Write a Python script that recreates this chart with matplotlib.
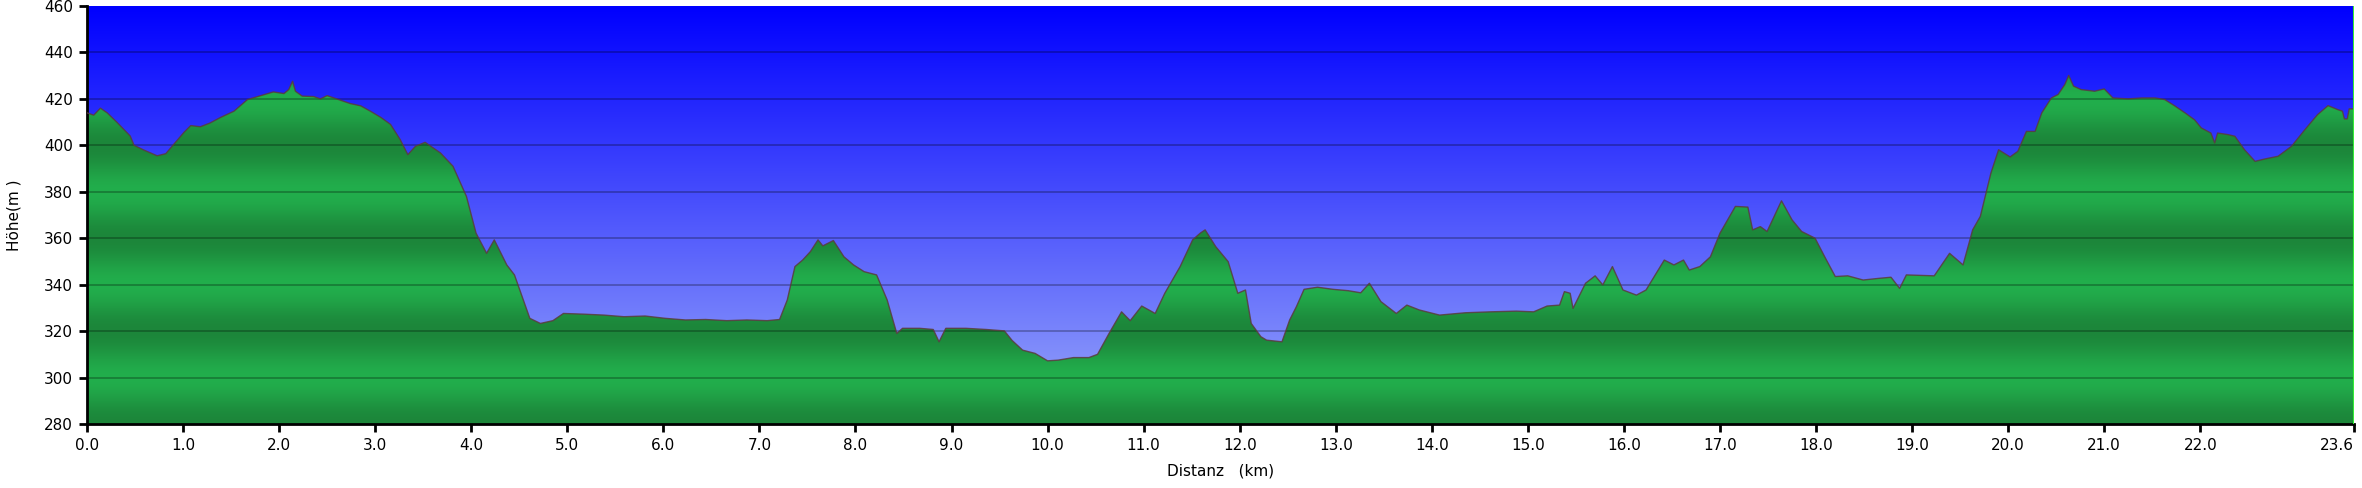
import numpy as np
import matplotlib
matplotlib.use("Agg")
import matplotlib.pyplot as plt

# Höhenprofil (km, m)
dist_km = [0.00, 0.07, 0.14, 0.21, 0.31, 0.45, 0.49, 0.59, 0.73, 0.82, 0.90, 1.01, 1.08, 1.18, 1.28,
           1.39, 1.53, 1.67, 1.81, 1.94, 2.05, 2.10, 2.14, 2.17, 2.24, 2.36, 2.43, 2.50, 2.60, 2.74,
           2.85, 2.95, 3.06, 3.16, 3.26, 3.34, 3.42, 3.52, 3.68, 3.81, 3.95, 4.05, 4.16, 4.24, 4.37,
           4.45, 4.61, 4.72, 4.85, 4.96, 5.17, 5.38, 5.59, 5.81, 6.02, 6.23, 6.44, 6.66, 6.87, 7.08,
           7.21, 7.29, 7.37, 7.45, 7.53, 7.61, 7.66, 7.77, 7.88, 7.98, 8.09, 8.22, 8.33, 8.43, 8.49,
           8.67, 8.81, 8.87, 8.94, 9.15, 9.36, 9.55, 9.63, 9.74, 9.87, 10.00, 10.11, 10.27, 10.43, 10.52,
           10.64, 10.77, 10.86, 10.98, 11.12, 11.22, 11.38, 11.51, 11.59, 11.64, 11.75, 11.88, 11.98, 12.06, 12.12,
           12.22, 12.28, 12.44, 12.52, 12.59, 12.67, 12.81, 12.97, 13.13, 13.26, 13.35, 13.47, 13.63, 13.74, 13.87,
           14.08, 14.35, 14.61, 14.88, 15.06, 15.20, 15.33, 15.38, 15.44, 15.47, 15.60, 15.70, 15.78, 15.88, 15.99,
           16.13, 16.23, 16.42, 16.52, 16.62, 16.68, 16.79, 16.90, 17.00, 17.16, 17.29, 17.34, 17.42, 17.49, 17.64,
           17.75, 17.85, 17.99, 18.09, 18.20, 18.33, 18.49, 18.65, 18.78, 18.87, 18.94, 19.23, 19.39, 19.53, 19.63,
           19.71, 19.82, 19.90, 20.02, 20.10, 20.19, 20.28, 20.35, 20.45, 20.52, 20.59, 20.63, 20.68, 20.76, 20.90,
           21.00, 21.09, 21.25, 21.39, 21.53, 21.63, 21.73, 21.84, 21.94, 22.01, 22.11, 22.15, 22.18, 22.29, 22.36,
           22.46, 22.57, 22.67, 22.81, 22.95, 23.09, 23.22, 23.33, 23.43, 23.48, 23.50, 23.53, 23.55, 23.60]
elev_m = [414.0, 413.0, 416.0, 414.0, 410.0, 404.0, 400.0, 398.0, 395.5, 396.4, 400.3, 405.6, 408.5, 408.0, 409.6,
          412.0, 414.7, 419.7, 421.4, 423.0, 422.3, 424.0, 427.6, 423.3, 421.2, 421.0, 420.0, 421.4, 420.0, 418.0,
          417.0, 414.7, 412.0, 409.0, 402.5, 396.0, 399.6, 401.3, 396.7, 391.0, 378.0, 362.2, 353.5, 359.3, 348.5,
          344.2, 325.5, 323.3, 324.5, 327.6, 327.3, 326.9, 326.2, 326.5, 325.5, 324.8, 325.0, 324.5, 324.8, 324.5,
          325.0, 333.4, 347.8, 350.6, 354.2, 359.3, 356.7, 359.0, 352.0, 348.5, 345.6, 344.2, 333.4, 319.0, 321.2,
          321.2, 320.7, 315.4, 321.2, 321.2, 320.7, 320.1, 316.0, 311.8, 310.4, 307.2, 307.5, 308.6, 308.6, 310.0,
          319.0, 328.3, 324.5, 330.8, 327.6, 336.3, 347.8, 359.3, 362.2, 363.6, 356.4, 349.9, 336.3, 337.7, 323.3,
          317.6, 316.1, 315.4, 324.8, 330.5, 338.0, 338.9, 338.0, 337.4, 336.5, 340.6, 332.7, 327.6, 331.2, 329.1,
          326.9, 327.9, 328.3, 328.6, 328.3, 330.8, 331.2, 337.0, 336.3, 329.8, 340.6, 343.8, 339.9, 347.8, 337.7,
          335.5, 337.7, 350.6, 348.5, 350.6, 346.3, 347.8, 352.0, 362.2, 373.7, 373.4, 363.6, 365.0, 362.9, 376.1,
          367.9, 362.9, 360.0, 352.0, 343.5, 343.8, 342.0, 342.7, 343.2, 338.4, 344.2, 343.8, 353.5, 348.5, 363.6,
          369.4, 388.0, 398.1, 395.0, 397.4, 406.0, 406.0, 414.0, 420.4, 421.9, 426.2, 430.1, 425.5, 424.0, 423.3,
          424.3, 420.4, 420.0, 420.4, 420.4, 419.7, 417.1, 414.0, 411.0, 407.5, 405.3, 401.0, 405.3, 404.6, 403.9,
          398.1, 393.1, 394.1, 395.3, 399.6, 406.8, 413.2, 417.1, 415.4, 414.7, 411.4, 411.4, 415.7, 415.7]

x_ticks = [float(i) for i in range(23)] + [23.6]
y_ticks = list(range(280, 461, 20))

x_max = 23.6
y_min, y_max = 280, 460

fig = plt.figure(figsize=(23.62, 4.88), dpi=100)
ax = fig.add_axes([87 / 2362, 1 - 424 / 488, (2354 - 87) / 2362, 418 / 488])

# Himmel: Verlauf von blau (oben) nach hellblau (unten)
h = np.linspace(0, 1, 256)[:, None]
top = np.array([0, 0, 255]) / 255
bot = np.array([155, 170, 250]) / 255
sky = (bot * (1 - h) + top * h)[:, None, :]
ax.imshow(sky, extent=[0, x_max, y_min, y_max], origin='lower', aspect='auto', zorder=0)

# Gelände: grüne Streifen, dunkel bei 280/320/360/400/440
ys = np.linspace(y_min, y_max, 720)
t = (1 - np.cos((ys - y_min) / 40 * 2 * np.pi)) / 2
dark = np.array([28, 134, 58]) / 255
light = np.array([34, 174, 76]) / 255
grn = (dark * (1 - t[:, None]) + light * t[:, None])[:, None, :]
img = ax.imshow(grn, extent=[0, x_max, y_min, y_max], origin='lower', aspect='auto', zorder=1)
poly = ax.fill_between(dist_km, elev_m, y_min, facecolor='none', edgecolor='none', zorder=1)
img.set_clip_path(poly.get_paths()[0], transform=ax.transData)

ax.plot(dist_km, elev_m, color='#5a3c3c', lw=1.0, alpha=0.85, zorder=3)

# Gitterlinien
for yv in y_ticks[1:-1]:
    ax.axhline(yv, color='black', alpha=0.28, lw=1.3, zorder=2)

ax.axvline(x_max, ymin=0, ymax=1, color='#33ee33', lw=1.5, zorder=4)

ax.set_xlim(0, x_max)
ax.set_ylim(y_min, y_max)
ax.set_xticks(x_ticks)
ax.set_xticklabels(['%.1f' % v for v in x_ticks])
ax.set_yticks(y_ticks)
ax.tick_params(direction='out', length=6, width=2, labelsize=11, colors='black', pad=4)
ax.get_xticklabels()[-1].set_horizontalalignment('right')

for s in ['top', 'right']:
    ax.spines[s].set_visible(False)
for s in ['left', 'bottom']:
    ax.spines[s].set_linewidth(2)

ax.set_xlabel('Distanz   (km)', fontsize=11, labelpad=8)
ax.set_ylabel('Höhe(m )', fontsize=11, labelpad=16)

fig.savefig('out.png', dpi=100)
